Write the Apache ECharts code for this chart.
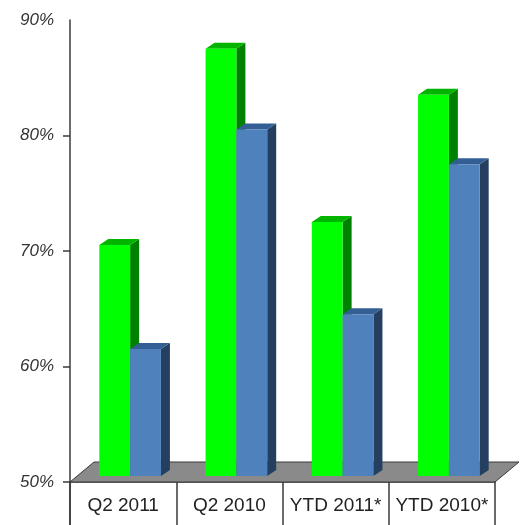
<!DOCTYPE html>
<html>
<head>
<meta charset="utf-8">
<script src="https://cdn.jsdelivr.net/npm/echarts@6/dist/echarts.min.js"></script>
<style>
  html, body { margin: 0; padding: 0; background: #fff; }
  #chart { width: 523px; height: 525px; }
</style>
</head>
<body>
<div id="chart"></div>
<script>
// Categories and the two value series (percent)
const categories = ['Q2 2011', 'Q2 2010', 'YTD 2011*', 'YTD 2010*'];
const greenValues = [70, 87, 72, 83];
const blueValues = [61, 80, 64, 77];
const yTickValues = [50, 60, 70, 80, 90];

const Y_MIN = 50;
const Y_MAX = 90;

// 3D geometry: bars sit slightly back on the floor
const FLOOR_DX = 24, FLOOR_DY = -20;
const INSET_DX = 7, INSET_DY = -6;
const DEPTH_DX = 9, DEPTH_DY = -6;
const BAR_FRACTION = 0.29;

const greenColors = { front: '#00ff00', top: '#00b400', side: '#008200' };
const blueColors = { front: '#4f81bd', top: '#335f94', side: '#243f60' };

function barRenderer(slot, colors) {
  return function (params, api) {
    const idx = api.value(0);
    const v = api.value(1);
    const base = api.coord([idx, Y_MIN]);
    const top = api.coord([idx, v]);
    const band = api.size([1, 0])[0];
    const w = band * BAR_FRACTION;
    const x0 = base[0] - w + slot * w + INSET_DX;
    const x1 = x0 + w;
    const yb = base[1] + INSET_DY;
    const yt = top[1] + INSET_DY;
    return {
      type: 'group',
      children: [
        {
          type: 'polygon',
          shape: { points: [[x1, yt], [x1, yb], [x1 + DEPTH_DX, yb + DEPTH_DY], [x1 + DEPTH_DX, yt + DEPTH_DY]] },
          style: { fill: colors.side }
        },
        {
          type: 'polygon',
          shape: { points: [[x0, yt], [x1, yt], [x1 + DEPTH_DX, yt + DEPTH_DY], [x0 + DEPTH_DX, yt + DEPTH_DY]] },
          style: { fill: colors.top }
        },
        {
          type: 'rect',
          shape: { x: x0, y: yt, width: w, height: yb - yt },
          style: { fill: colors.front }
        }
      ]
    };
  };
}

// Gray floor plane under the bars
function floorRenderer(params, api) {
  const cs = params.coordSys;
  const yb = api.coord([0, Y_MIN])[1];
  const xl = cs.x, xr = cs.x + cs.width;
  return {
    type: 'polygon',
    shape: { points: [[xl, yb], [xr, yb], [xr + FLOOR_DX, yb + FLOOR_DY], [xl + FLOOR_DX, yb + FLOOR_DY]] },
    style: { fill: '#8a8a8a', stroke: '#3a3a3a', lineWidth: 1 }
  };
}

const chart = echarts.init(document.getElementById('chart'), null, { renderer: 'canvas' });

chart.setOption({
  animation: false,
  backgroundColor: '#ffffff',
  grid: { left: 70, right: 28, top: 20, bottom: 43 },
  xAxis: {
    type: 'category',
    data: categories,
    boundaryGap: true,
    axisLine: { show: true, lineStyle: { color: '#3a3a3a', width: 1.5 } },
    axisTick: { show: true, interval: 0, length: 45, alignWithLabel: false, lineStyle: { color: '#3a3a3a', width: 1.5 } },
    axisLabel: {
      interval: 0,
      color: '#222',
      fontFamily: 'Liberation Sans, Arial, sans-serif',
      fontSize: 19,
      margin: 14
    },
    splitLine: { show: false }
  },
  yAxis: {
    type: 'value',
    min: Y_MIN,
    max: Y_MAX,
    interval: 10,
    axisLine: { show: true, onZero: false, lineStyle: { color: '#3a3a3a', width: 1.5 } },
    axisTick: { show: true, length: 7, customValues: [50, 60, 70, 80], lineStyle: { color: '#3a3a3a', width: 1.5 } },
    axisLabel: {
      customValues: yTickValues,
      formatter: '{value}%',
      color: '#333',
      fontFamily: 'Liberation Sans, Arial, sans-serif',
      fontStyle: 'italic',
      fontSize: 17,
      margin: 16
    },
    splitLine: { show: false }
  },
  series: [
    {
      type: 'custom',
      name: 'floor',
      renderItem: floorRenderer,
      data: [[0, Y_MIN]],
      clip: false,
      silent: true,
      z: 1
    },
    {
      type: 'custom',
      name: 'green',
      renderItem: barRenderer(0, greenColors),
      data: greenValues.map((v, i) => [i, v]),
      encode: { x: 0, y: 1 },
      clip: false,
      z: 2
    },
    {
      type: 'custom',
      name: 'blue',
      renderItem: barRenderer(1, blueColors),
      data: blueValues.map((v, i) => [i, v]),
      encode: { x: 0, y: 1 },
      clip: false,
      z: 3
    }
  ]
});

// Extend the value axis line down through the category table
chart.setOption({
  graphic: [{
    type: 'line',
    shape: { x1: 70, y1: 482, x2: 70, y2: 525 },
    style: { stroke: '#3a3a3a', lineWidth: 1.5 },
    z: 10
  }]
});
</script>
</body>
</html>
